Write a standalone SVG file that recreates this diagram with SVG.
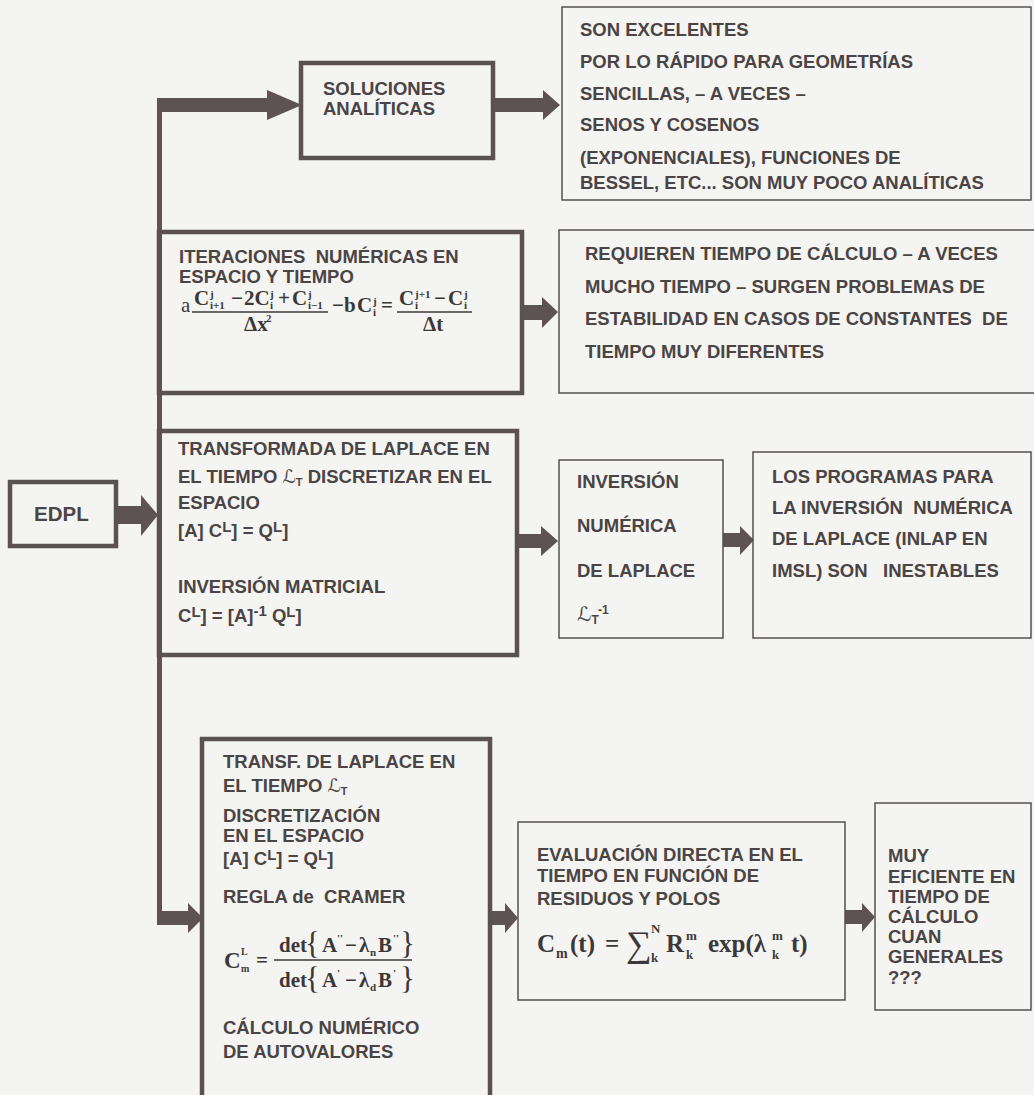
<svg xmlns="http://www.w3.org/2000/svg" width="1034" height="1095" viewBox="0 0 1034 1095">
<style>
.t{font-family:"Liberation Sans",Arial,sans-serif;font-weight:bold;font-size:18.5px;fill:#4a4444;white-space:pre}
.m{font-family:"Liberation Serif","Times New Roman",serif;font-weight:bold;font-size:21px;fill:#3c3838}
.s{font-size:11px}
.br{font-family:"Liberation Serif",serif;font-weight:normal;font-size:31px;fill:#3c3838}
.L{font-family:"DejaVu Sans",sans-serif;font-weight:normal;font-style:italic;fill:#4a4444}
.bk{fill:none;stroke:#5a5151;stroke-width:4.5}
.bn{fill:none;stroke:#555050;stroke-width:1.5}
.ar{fill:#5e5353}
</style>
<rect x="0" y="0" width="1034" height="1095" fill="#f4f4f2"/>

<g id="connectors">
  <rect class="ar" x="157" y="98" width="5" height="827"/>
  <polygon class="ar" points="157,98 267,98 267,90 302,105 267,120 267,112 157,112"/>
  <polygon class="ar" points="157,911 188,911 188,903 203,918 188,933 188,925 157,925"/>
  <polygon class="ar" points="116,506 141,506 141,495 158,515 141,536 141,524 116,524"/>
  <polygon class="ar" points="493,98 543,98 543,90 560,105 543,120 543,112 493,112"/>
  <polygon class="ar" points="522,305 542,305 542,297 558,312 542,328 542,320 522,320"/>
  <polygon class="ar" points="517,534 541,534 541,526 558,541 541,556 541,548 517,548"/>
  <polygon class="ar" points="723,533 740,533 740,526 754,540 740,555 740,547 723,547"/>
  <polygon class="ar" points="490,911 505,911 505,903 518,918 505,933 505,925 490,925"/>
  <polygon class="ar" points="845,910 862,910 862,903 875,917 862,932 862,924 845,924"/>
</g>

<g id="edpl">
  <rect class="bk" x="10" y="482" width="106" height="64"/>
  <text class="t" x="34" y="521" style="font-size:20.5px">EDPL</text>
</g>

<g id="soluciones">
  <rect class="bk" x="301" y="63" width="192" height="95"/>
  <text class="t" x="323" y="95">SOLUCIONES</text>
  <text class="t" x="323" y="115">ANALÍTICAS</text>
</g>

<g id="nota-analiticas">
  <rect class="bn" x="562" y="7" width="469" height="193"/>
  <text class="t" x="580" y="36">SON EXCELENTES</text>
  <text class="t" x="580" y="68">POR LO RÁPIDO PARA GEOMETRÍAS</text>
  <text class="t" x="580" y="100">SENCILLAS, – A VECES –</text>
  <text class="t" x="580" y="131">SENOS Y COSENOS</text>
  <text class="t" x="580" y="164">(EXPONENCIALES), FUNCIONES DE</text>
  <text class="t" x="580" y="189">BESSEL, ETC... SON MUY POCO ANALÍTICAS</text>
</g>

<g id="iteraciones">
  <rect class="bk" x="159" y="232" width="363" height="161"/>
  <text class="t" x="179" y="263">ITERACIONES  NUMÉRICAS EN</text>
  <text class="t" x="179" y="283">ESPACIO Y TIEMPO</text>
  <text class="m" x="181" y="312" style="font-weight:normal">a</text>
  <text class="m" x="194" y="305">C</text>
  <text class="m s" x="210" y="298">j</text>
  <text class="m s" x="210" y="309">i+1</text>
  <text class="m" x="231" y="305">−</text>
  <text class="m" x="244" y="305">2C</text>
  <text class="m s" x="270" y="298">j</text>
  <text class="m s" x="270" y="309">i</text>
  <text class="m" x="278" y="305">+</text>
  <text class="m" x="292" y="305">C</text>
  <text class="m s" x="308" y="298">j</text>
  <text class="m s" x="308" y="309">i−1</text>
  <line x1="192" y1="312" x2="328" y2="312" stroke="#3c3838" stroke-width="1.3"/>
  <text class="m" x="244" y="331">Δx</text>
  <text class="m s" x="266" y="322">2</text>
  <text class="m" x="332" y="312">−b</text>
  <text class="m" x="357" y="312">C</text>
  <text class="m s" x="373" y="305">j</text>
  <text class="m s" x="373" y="316">i</text>
  <text class="m" x="381" y="312">=</text>
  <line x1="397" y1="312" x2="472" y2="312" stroke="#3c3838" stroke-width="1.3"/>
  <text class="m" x="399" y="305">C</text>
  <text class="m s" x="415" y="298">j+1</text>
  <text class="m s" x="415" y="309">i</text>
  <text class="m" x="434" y="305">−</text>
  <text class="m" x="448" y="305">C</text>
  <text class="m s" x="464" y="298">j</text>
  <text class="m s" x="464" y="309">i</text>
  <text class="m" x="423" y="331">Δt</text>
</g>

<g id="nota-iteraciones">
  <rect class="bn" x="559" y="230" width="480" height="163"/>
  <text class="t" x="585" y="260">REQUIEREN TIEMPO DE CÁLCULO – A VECES</text>
  <text class="t" x="585" y="293">MUCHO TIEMPO – SURGEN PROBLEMAS DE</text>
  <text class="t" x="585" y="325">ESTABILIDAD EN CASOS DE CONSTANTES  DE</text>
  <text class="t" x="585" y="358">TIEMPO MUY DIFERENTES</text>
</g>

<g id="laplace">
  <rect class="bk" x="159" y="431" width="358" height="224"/>
  <text class="t" x="178" y="455">TRANSFORMADA DE LAPLACE EN</text>
  <text class="t" x="178" y="483">EL TIEMPO <tspan class="L">ℒ</tspan><tspan font-size="11" dy="3">T</tspan><tspan dy="-3"> DISCRETIZAR EN EL</tspan></text>
  <text class="t" x="178" y="509">ESPACIO</text>
  <text class="t" x="178" y="537">[A] C<tspan font-size="15" dy="-5">L</tspan><tspan dy="5">] = Q</tspan><tspan font-size="15" dy="-5">L</tspan><tspan dy="5">]</tspan></text>
  <text class="t" x="178" y="593">INVERSIÓN MATRICIAL</text>
  <text class="t" x="178" y="622">C<tspan font-size="15" dy="-5">L</tspan><tspan dy="5">] = [A]</tspan><tspan font-size="15" dy="-6">-1</tspan><tspan dy="6"> Q</tspan><tspan font-size="15" dy="-5">L</tspan><tspan dy="5">]</tspan></text>
</g>

<g id="inversion">
  <rect class="bn" x="559" y="460" width="164" height="178"/>
  <text class="t" x="577" y="488">INVERSIÓN</text>
  <text class="t" x="577" y="532">NUMÉRICA</text>
  <text class="t" x="577" y="577">DE LAPLACE</text>
  <text class="t" x="577" y="621"><tspan class="L" font-size="20">ℒ</tspan><tspan font-size="12" dy="3">T</tspan><tspan font-size="12" dy="-10">-1</tspan></text>
</g>

<g id="nota-inversion">
  <rect class="bn" x="753" y="452" width="278" height="186"/>
  <text class="t" x="772" y="483">LOS PROGRAMAS PARA</text>
  <text class="t" x="772" y="514">LA INVERSIÓN  NUMÉRICA</text>
  <text class="t" x="772" y="545">DE LAPLACE (INLAP EN</text>
  <text class="t" x="772" y="577">IMSL) SON   INESTABLES</text>
</g>

<g id="cramer">
  <rect class="bk" x="202" y="739" width="288" height="370"/>
  <text class="t" x="223" y="768">TRANSF. DE LAPLACE EN</text>
  <text class="t" x="223" y="792">EL TIEMPO <tspan class="L">ℒ</tspan><tspan font-size="11" dy="3">T</tspan></text>
  <text class="t" x="223" y="822">DISCRETIZACIÓN</text>
  <text class="t" x="223" y="842">EN EL ESPACIO</text>
  <text class="t" x="223" y="865">[A] C<tspan font-size="15" dy="-5">L</tspan><tspan dy="5">] = Q</tspan><tspan font-size="15" dy="-5">L</tspan><tspan dy="5">]</tspan></text>
  <text class="t" x="223" y="903">REGLA de  CRAMER</text>
  <text class="m" x="224" y="968" style="font-size:23px">C</text>
  <text class="m" x="241" y="955" style="font-size:10px">L</text>
  <text class="m" x="241" y="972" style="font-size:10px">m</text>
  <text class="m" x="256" y="967">=</text>
  <line x1="274" y1="960" x2="412" y2="960" stroke="#3c3838" stroke-width="1.3"/>
  <text class="m" x="279" y="952">det</text>
  <text class="br" x="305" y="954">{</text>
  <text class="m" x="322" y="952">A</text>
  <text class="m s" x="337" y="942">''</text>
  <text class="m" x="345" y="952">−</text>
  <text class="m" x="359" y="952">λ</text>
  <text class="m s" x="370" y="956">n</text>
  <text class="m" x="378" y="952">B</text>
  <text class="m s" x="393" y="942">''</text>
  <text class="br" x="400" y="954">}</text>
  <text class="m" x="279" y="987">det</text>
  <text class="br" x="305" y="989">{</text>
  <text class="m" x="322" y="987">A</text>
  <text class="m s" x="337" y="977">'</text>
  <text class="m" x="345" y="987">−</text>
  <text class="m" x="359" y="987">λ</text>
  <text class="m s" x="370" y="991">d</text>
  <text class="m" x="378" y="987">B</text>
  <text class="m s" x="393" y="977">'</text>
  <text class="br" x="400" y="989">}</text>
  <text class="t" x="223" y="1034">CÁLCULO NUMÉRICO</text>
  <text class="t" x="223" y="1058">DE AUTOVALORES</text>
</g>

<g id="evaluacion">
  <rect class="bn" x="518" y="822" width="327" height="178"/>
  <text class="t" x="537" y="861">EVALUACIÓN DIRECTA EN EL</text>
  <text class="t" x="537" y="882">TIEMPO EN FUNCIÓN DE</text>
  <text class="t" x="537" y="905">RESIDUOS Y POLOS</text>
  <text class="m" x="537" y="952" style="font-size:25px">C</text>
  <text class="m" x="556" y="958" style="font-size:14px">m</text>
  <text class="m" x="570" y="952" style="font-size:25px">(t)</text>
  <text class="m" x="605" y="952" style="font-size:25px">=</text>
  <text class="br" x="626" y="956" style="font-size:36px">∑</text>
  <text class="m" x="651" y="933" style="font-size:13px">N</text>
  <text class="m" x="651" y="962" style="font-size:13px">k</text>
  <text class="m" x="666" y="952" style="font-size:25px">R</text>
  <text class="m" x="686" y="940" style="font-size:13px">m</text>
  <text class="m" x="686" y="959" style="font-size:13px">k</text>
  <text class="m" x="708" y="952" style="font-size:25px">exp(λ</text>
  <text class="m" x="772" y="940" style="font-size:13px">m</text>
  <text class="m" x="772" y="959" style="font-size:13px">k</text>
  <text class="m" x="791" y="952" style="font-size:25px">t)</text>
</g>

<g id="nota-evaluacion">
  <rect class="bn" x="875" y="803" width="156" height="207"/>
  <text class="t" x="888" y="862">MUY</text>
  <text class="t" x="888" y="883">EFICIENTE EN</text>
  <text class="t" x="888" y="903">TIEMPO DE</text>
  <text class="t" x="888" y="923">CÁLCULO</text>
  <text class="t" x="888" y="943">CUAN</text>
  <text class="t" x="888" y="963">GENERALES</text>
  <text class="t" x="888" y="984">???</text>
</g>
</svg>
